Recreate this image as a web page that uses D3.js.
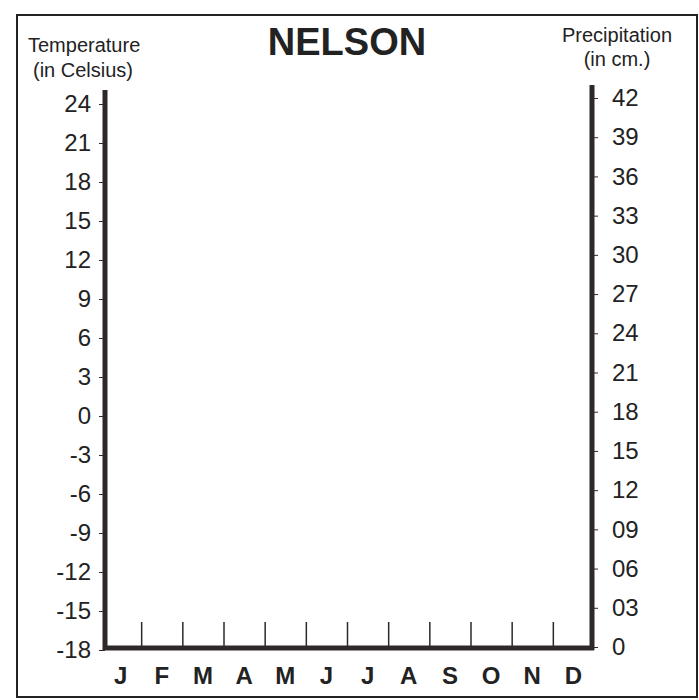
<!DOCTYPE html>
<html>
<head>
<meta charset="utf-8">
<script src="https://cdn.jsdelivr.net/npm/d3@7"></script>
<style>
  body { margin: 0; background: #fff; }
  text { font-family: "Liberation Sans", Arial, sans-serif; fill: #222; }
  .axis path, .axis line { stroke: #2e2828; }
</style>
</head>
<body>
<div id="chart"></div>
<script>
// blank climograph worksheet - no series plotted yet
var months = ['J', 'F', 'M', 'A', 'M', 'J', 'J', 'A', 'S', 'O', 'N', 'D'];
var tempTicks = [-18, -15, -12, -9, -6, -3, 0, 3, 6, 9, 12, 15, 18, 21, 24];
var precTicks = [0, 3, 6, 9, 12, 15, 18, 21, 24, 27, 30, 33, 36, 39, 42];
var tempDomain = [-18, 24];
var precDomain = [0, 42];

var width = 699,
    height = 700;

var svg = d3.select("#chart").append("svg")
    .attr("width", width)
    .attr("height", height);

// page frame
svg.append("rect")
    .attr("x", 17).attr("y", 15)
    .attr("width", 680).attr("height", 682)
    .attr("fill", "none")
    .attr("stroke", "#222")
    .attr("stroke-width", 2);

var xLeft = 105, xRight = 592, yBase = 648;

var yTemp = d3.scaleLinear().domain(tempDomain).range([650, 104]);
var yPrec = d3.scaleLinear().domain(precDomain).range([647, 98]);
var x = d3.scaleBand().domain(d3.range(12)).range([100, 594]);
var xTick = d3.scaleLinear().domain([0, 12]).range([100, 594]);

// temperature axis (hyphen minus like the printed sheet)
var leftAxis = svg.append("g")
    .attr("class", "axis")
    .attr("transform", "translate(" + xLeft + ",0)")
    .call(d3.axisLeft(yTemp).tickValues(tempTicks).tickSize(6).tickPadding(8)
        .tickFormat(function(d) { return String(d); }));
leftAxis.select(".domain").remove();
leftAxis.selectAll("text").style("font-size", "24px");

// precipitation axis
var rightAxis = svg.append("g")
    .attr("class", "axis")
    .attr("transform", "translate(" + xRight + ",0)")
    .call(d3.axisRight(yPrec).tickValues(precTicks).tickSize(6).tickPadding(14)
        .tickFormat(function(d) { return d === 0 ? "0" : d < 10 ? "0" + d : d; }));
rightAxis.select(".domain").remove();
rightAxis.selectAll("text").style("font-size", "24px");

// month dividers
var monthTicks = svg.append("g")
    .attr("class", "axis")
    .attr("transform", "translate(0," + yBase + ")")
    .call(d3.axisTop(xTick).tickValues(d3.range(1, 12)).tickSize(26).tickFormat(""));
monthTicks.select(".domain").remove();
monthTicks.selectAll("line").attr("stroke-width", 1.5);

// month labels
var monthAxis = svg.append("g")
    .attr("class", "axis")
    .attr("transform", "translate(0," + (yBase + 12) + ")")
    .call(d3.axisBottom(x).tickSize(0).tickPadding(7).tickFormat(function(i) { return months[i]; }));
monthAxis.select(".domain").remove();
monthAxis.selectAll("text").style("font-size", "24px").style("font-weight", "bold");

// thick axis lines
svg.append("line")
    .attr("x1", xLeft).attr("x2", xLeft)
    .attr("y1", 90).attr("y2", yBase + 2)
    .attr("stroke", "#2e2828").attr("stroke-width", 5);
svg.append("line")
    .attr("x1", xRight).attr("x2", xRight)
    .attr("y1", 85).attr("y2", yBase + 2)
    .attr("stroke", "#2e2828").attr("stroke-width", 5);
svg.append("line")
    .attr("x1", xLeft - 2).attr("x2", xRight + 2)
    .attr("y1", yBase).attr("y2", yBase)
    .attr("stroke", "#2e2828").attr("stroke-width", 5);

// titles
svg.append("text")
    .attr("x", 347).attr("y", 55)
    .attr("text-anchor", "middle")
    .style("font-size", "38px")
    .style("font-weight", "bold")
    .text("NELSON");

svg.append("text")
    .attr("x", 28).attr("y", 52)
    .style("font-size", "20px")
    .text("Temperature");
svg.append("text")
    .attr("x", 33).attr("y", 77)
    .style("font-size", "20px")
    .text("(in Celsius)");

svg.append("text")
    .attr("x", 617).attr("y", 42)
    .attr("text-anchor", "middle")
    .style("font-size", "20px")
    .text("Precipitation");
svg.append("text")
    .attr("x", 617).attr("y", 66)
    .attr("text-anchor", "middle")
    .style("font-size", "20px")
    .text("(in cm.)");
</script>
</body>
</html>
